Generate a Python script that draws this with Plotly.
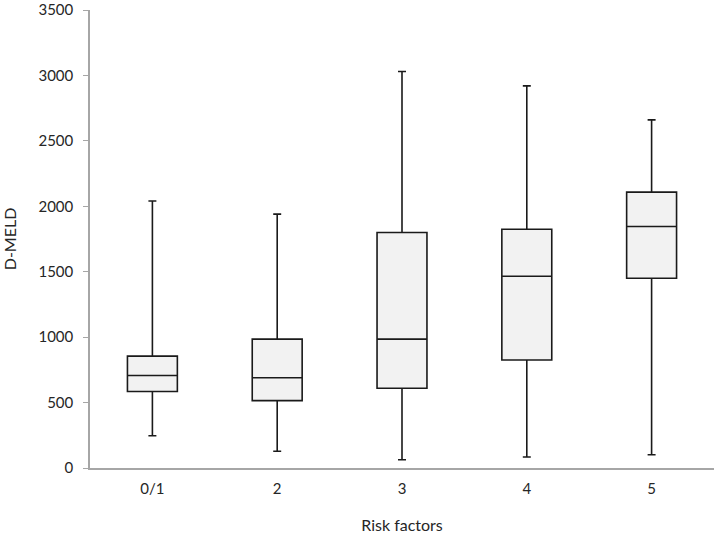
import plotly.graph_objects as go

# Box plot summaries
categories = ["0/1", "2", "3", "4", "5"]
lower_whisker = [247, 128, 63, 84, 101]
q1_values = [585, 515, 610, 825, 1450]
median_values = [707, 690, 985, 1465, 1845]
q3_values = [855, 985, 1800, 1825, 2108]
upper_whisker = [2040, 1940, 3030, 2920, 2660]

font_family = "Lato, 'Open Sans', sans-serif"

fig = go.Figure()

fig.add_trace(go.Box(x=categories,
                     q1=q1_values,
                     median=median_values,
                     q3=q3_values,
                     lowerfence=lower_whisker,
                     upperfence=upper_whisker,
                     fillcolor="#f2f2f2",
                     line=dict(color="#1a1a1a", width=1.6),
                     whiskerwidth=0.16,
                     width=0.4,
                     boxpoints=False,
                     hoverinfo="skip",
                     showlegend=False))

fig.update_layout(width=720,
                  height=537,
                  margin=dict(l=90, r=6, t=10, b=69),
                  plot_bgcolor="white",
                  paper_bgcolor="white",
                  font=dict(family=font_family, size=15, color="#262626"))

fig.update_xaxes(type="category",
                 range=[-0.5, 4.5],
                 automargin=False,
                 showline=True,
                 linecolor="#a6a6a6",
                 linewidth=1.5,
                 ticks="outside",
                 ticklen=6,
                 tickcolor="white",
                 showgrid=False,
                 zeroline=False,
                 title=dict(text="Risk factors", standoff=24,
                            font=dict(size=16)))

fig.update_yaxes(range=[0, 3500],
                 dtick=500,
                 automargin=False,
                 showline=True,
                 linecolor="#a6a6a6",
                 linewidth=1.5,
                 ticks="outside",
                 ticklen=5,
                 tickcolor="#a6a6a6",
                 ticklabelstandoff=7,
                 ticklabeloverflow="allow",
                 showgrid=False,
                 zeroline=False,
                 title=dict(text="D-MELD", standoff=26,
                            font=dict(size=16)))

# drop the browser's default body margin so the figure sits at the page corner
fig.write_html("out.html",
               config={"displayModeBar": False},
               post_script="document.body.style.margin = '0';")
